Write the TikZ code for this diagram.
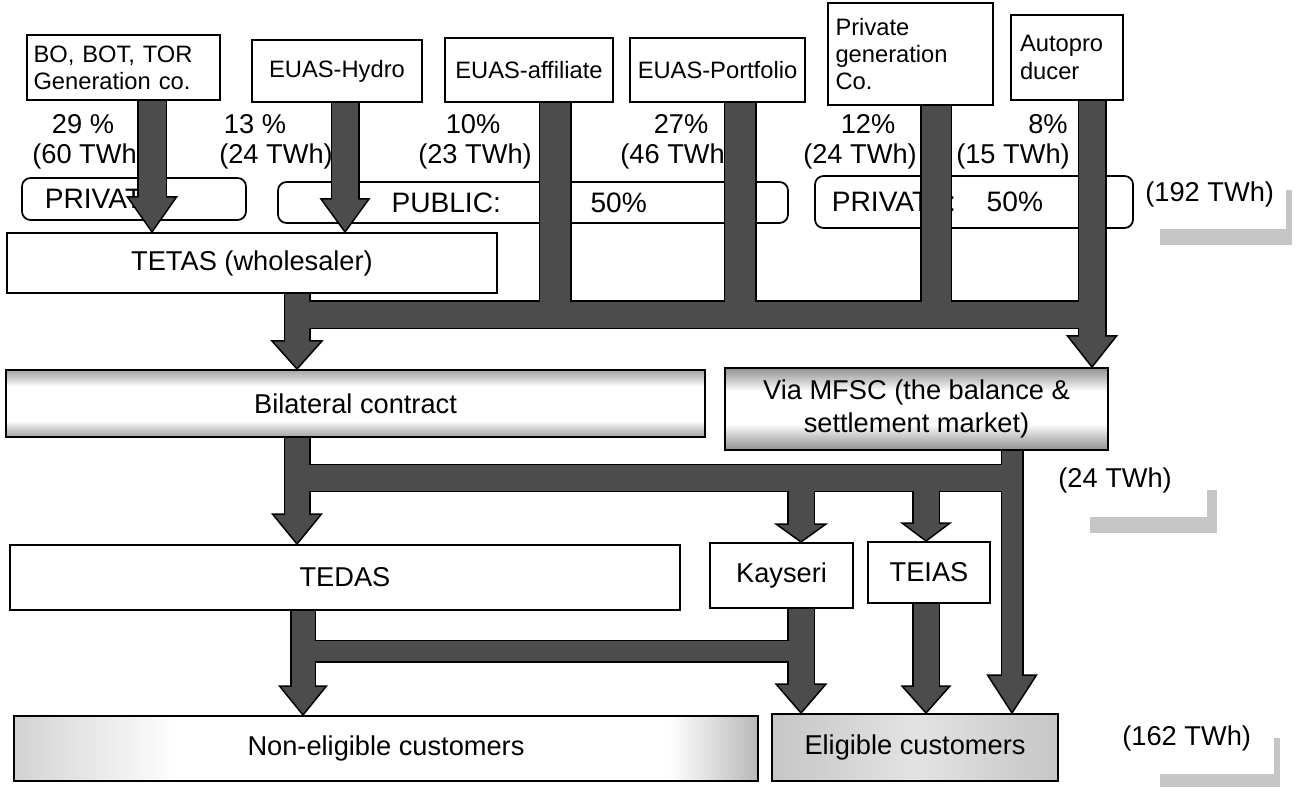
\documentclass[tikz,border=0pt]{standalone}
\usepackage{fontspec}
\setmainfont{Liberation Sans}
\usetikzlibrary{calc}
\pgfdeclarelayer{bg}
\pgfdeclarelayer{flow}
\pgfsetlayers{bg,flow,main}
\definecolor{flowc}{gray}{0.30}
\pgfdeclareverticalshading{bilsh}{100bp}{color(0bp)=(gray!70); color(25bp)=(gray!70); color(31bp)=(gray!40); color(37bp)=(white); color(63bp)=(white); color(69bp)=(gray!40); color(75bp)=(gray!70); color(100bp)=(gray!70)}
\pgfdeclareverticalshading{mfscsh}{100bp}{color(0bp)=(gray!85); color(25bp)=(gray!85); color(33bp)=(gray!45); color(41bp)=(white); color(61bp)=(white); color(68bp)=(gray!45); color(75bp)=(gray!85); color(100bp)=(gray!85)}
\pgfdeclarehorizontalshading{nesh}{100bp}{color(0bp)=(gray!35); color(25bp)=(gray!35); color(36bp)=(white); color(69bp)=(white); color(75bp)=(gray!55); color(100bp)=(gray!55)}
\pgfdeclarehorizontalshading{elsh}{100bp}{color(0bp)=(gray!45); color(25bp)=(gray!45); color(50bp)=(gray!22); color(75bp)=(gray!45); color(100bp)=(gray!45)}
\tikzset{
  bx/.style={draw=black, line width=0.04cm, fill=white, inner sep=0pt},
  bxs/.style={draw=black, line width=0.04cm, inner sep=0pt, shade, shading=#1},
  topf/.style={font=\fontsize{13.5}{15.5}\selectfont},
  midf/.style={font=\fontsize{15.5}{18.7}\selectfont},
  cat/.style={draw=black, line width=0.035cm, fill=white, rounded corners=0.17cm, inner sep=0pt, font=\fontsize{16}{19}\selectfont},
  lbl/.style={inner sep=0pt, font=\fontsize{15.5}{18}\selectfont},
  fo/.style={draw=black, line width={(#1+3)*0.02cm}},
  fi/.style={draw=flowc, line width={#1*0.02cm}},
  hd/.style={draw=black, line width=0.03cm, fill=flowc, line join=miter},
  strip/.style={fill=gray!45}
}
% box from corner (x1,y1) to (x2,y2) in pixel units
\newcommand\bnode[7]{\node[#1, minimum width={(#5-#3)*0.02cm}, minimum height={(#6-#4)*0.02cm}] (#2) at ({(#3+#5)/2},{(#4+#6)/2}) {#7};}
\newcommand\fhead[3]{\filldraw[hd] #1 -- ++(#2,-#3) -- ++({-2*#2},0) -- cycle;}
\newcommand\flowsegs[1]{%
\draw[#1=27] (bo.south -| xa) -- ($(tetas.north -| xa)+(0,-34)$);
\draw[#1=26] (hydro.south -| xb) -- ($(tetas.north -| xb)+(0,-32)$);
\draw[#1=30] (affil.south -| xc) -- (xc |- yb1);
\draw[#1=30] (portf.south -| xd) -- (xd |- yb1);
\draw[#1=29] (privgen.south -| xe) -- (xe |- yb1);
\draw[#1=26] (autop.south -| xf) -- ($(mfsc.north -| xf)+(0,-30)$);
\draw[#1=26] (xg |- yb1) -- (xf |- yb1);
\draw[#1=24] (tetas.south -| xg) -- ($(bilat.north -| xg)+(0,-27)$);
\draw[#1=24] (bilat.south -| xg) -- ($(tedas.north -| xg)+(0,-29)$);
\draw[#1=25] (xg |- yb2) -- (xh |- yb2);
\draw[#1=20] (mfsc.south -| xh) -- ($(elig.north -| xh)+(0,-37)$);
\draw[#1=25] (xi |- yb2) -- ($(kays.north -| xi)+(0,-17)$);
\draw[#1=25] (xj |- yb2) -- ($(teias.north -| xj)+(0,-17)$);
\draw[#1=23] (tedas.south -| xk) -- ($(nonel.north -| xk)+(0,-28)$);
\draw[#1=25] (kays.south -| xi) -- ($(elig.north -| xi)+(0,-28)$);
\draw[#1=20] (xk |- yb3) -- (xi |- yb3);
\draw[#1=25] (teias.south -| xj) -- ($(elig.north -| xj)+(0,-26)$);
}
\begin{document}
\begin{tikzpicture}[x=0.02cm,y=-0.02cm]
\useasboundingbox (0,0) rectangle (1301,793);
% main boxes
\bnode{bx, topf, text width=3.6cm, align=left}{bo}{27}{35}{220}{100}{BO, BOT, TOR\\Generation co.}
\bnode{bx, topf}{hydro}{252}{40}{422}{102}{EUAS-Hydro}
\bnode{bx, topf}{affil}{445}{38}{613}{102}{EUAS-affiliate}
\bnode{bx, topf}{portf}{630}{38}{805}{102}{EUAS-Portfolio}
\bnode{bx, topf, text width=3.0cm, align=left}{privgen}{828}{3}{993}{105}{Private\\generation\\Co.}
\bnode{bx, topf, text width=1.88cm, align=left}{autop}{1011}{15}{1123}{100}{Autopro\\ducer}
\bnode{bx, midf}{tetas}{7}{233}{497}{293}{TETAS (wholesaler)}
\bnode{bxs=bilsh, midf}{bilat}{6}{370}{705}{437}{Bilateral contract}
\bnode{bxs=mfscsh, midf, align=center}{mfsc}{725}{368}{1108}{450}{Via MFSC (the balance \&\\settlement market)}
\bnode{bx, midf}{tedas}{10}{545}{680}{610}{TEDAS}
\bnode{bx, midf}{kays}{710}{543}{853}{608}{Kayseri}
\bnode{bx, midf}{teias}{868}{542}{990}{603}{TEIAS}
\bnode{bxs=nesh, midf}{nonel}{14}{716}{758}{781}{Non-eligible customers}
\bnode{bxs=elsh, midf}{elig}{772}{714}{1058}{781}{Eligible customers}
% background: categories and labels
\begin{pgfonlayer}{bg}
\bnode{cat, text width=4.48cm, align=left}{cpriv1}{22}{178}{246}{220}{\hspace*{13pt}PRIVATE}
\bnode{cat, text width=10.2cm, align=left}{cpub}{278}{182}{788}{223}{\hspace*{64.6pt}PUBLIC:\hspace{51pt}50\%}
\bnode{cat, text width=6.36cm, align=left}{cpriv2}{815}{176}{1133}{228}{\hspace*{9.6pt}PRIVATE:\hspace{17.6pt}50\%}
\node[lbl] (l1a) at (83,124) {29 \%};
\node[lbl, anchor=west] (l1b) at (32,156) {(60 TWh)};
\node[lbl] (l2a) at (255,124) {13 \%};
\node[lbl] (l2b) at (276,156) {(24 TWh)};
\node[lbl] (l3a) at (473,124) {10\%};
\node[lbl] (l3b) at (475,156) {(23 TWh)};
\node[lbl] (l4a) at (681,124) {27\%};
\node[lbl, anchor=west] (l4b) at (620,156) {(46 TWh)};
\node[lbl] (l5a) at (868,124) {12\%};
\node[lbl] (l5b) at (860,156) {(24 TWh)};
\node[lbl] (l6a) at (1048,124) {8\%};
\node[lbl] (l6b) at (1013,156) {(15 TWh)};
\node[lbl, anchor=west] (t192) at (1145,194) {(192 TWh)};
\node[lbl, anchor=west] (t24) at (1058,480) {(24 TWh)};
\node[lbl, anchor=west] (t162) at (1122,738) {(162 TWh)};
\fill[strip] (1160,229) rectangle (1290,245);
\fill[strip] (1286,190) rectangle (1292,245);
\fill[strip] (1090,517) rectangle (1217,533);
\fill[strip] (1207,490) rectangle (1217,533);
\fill[strip] (1160,774) rectangle (1280,787);
\fill[strip] (1274,738) rectangle (1280,787);
\end{pgfonlayer}
% flow coordinates
\coordinate (xa) at (152,0);
\coordinate (xb) at (345,0);
\coordinate (xc) at (555,0);
\coordinate (xd) at (740,0);
\coordinate (xe) at (936,0);
\coordinate (xf) at (1092,0);
\coordinate (xg) at (297,0);
\coordinate (xh) at (1012,0);
\coordinate (xi) at (801,0);
\coordinate (xj) at (926,0);
\coordinate (xk) at (303,0);
\coordinate (yb1) at (0,315);
\coordinate (yb2) at (0,478);
\coordinate (yb3) at (0,651);
\begin{pgfonlayer}{flow}
\flowsegs{fo}
\fhead{(tetas.north -| xa)}{24.5}{35}
\fhead{(tetas.north -| xb)}{24}{33}
\fhead{(mfsc.north -| xf)}{24.5}{31}
\fhead{(bilat.north -| xg)}{25}{28}
\fhead{(tedas.north -| xg)}{24.5}{30}
\fhead{(elig.north -| xh)}{24.5}{38}
\fhead{(kays.north -| xi)}{25}{18}
\fhead{(teias.north -| xj)}{24}{18}
\fhead{(nonel.north -| xk)}{23.5}{29}
\fhead{(elig.north -| xi)}{25}{29}
\fhead{(elig.north -| xj)}{24}{27}
\flowsegs{fi}
\end{pgfonlayer}
\end{tikzpicture}
\end{document}
